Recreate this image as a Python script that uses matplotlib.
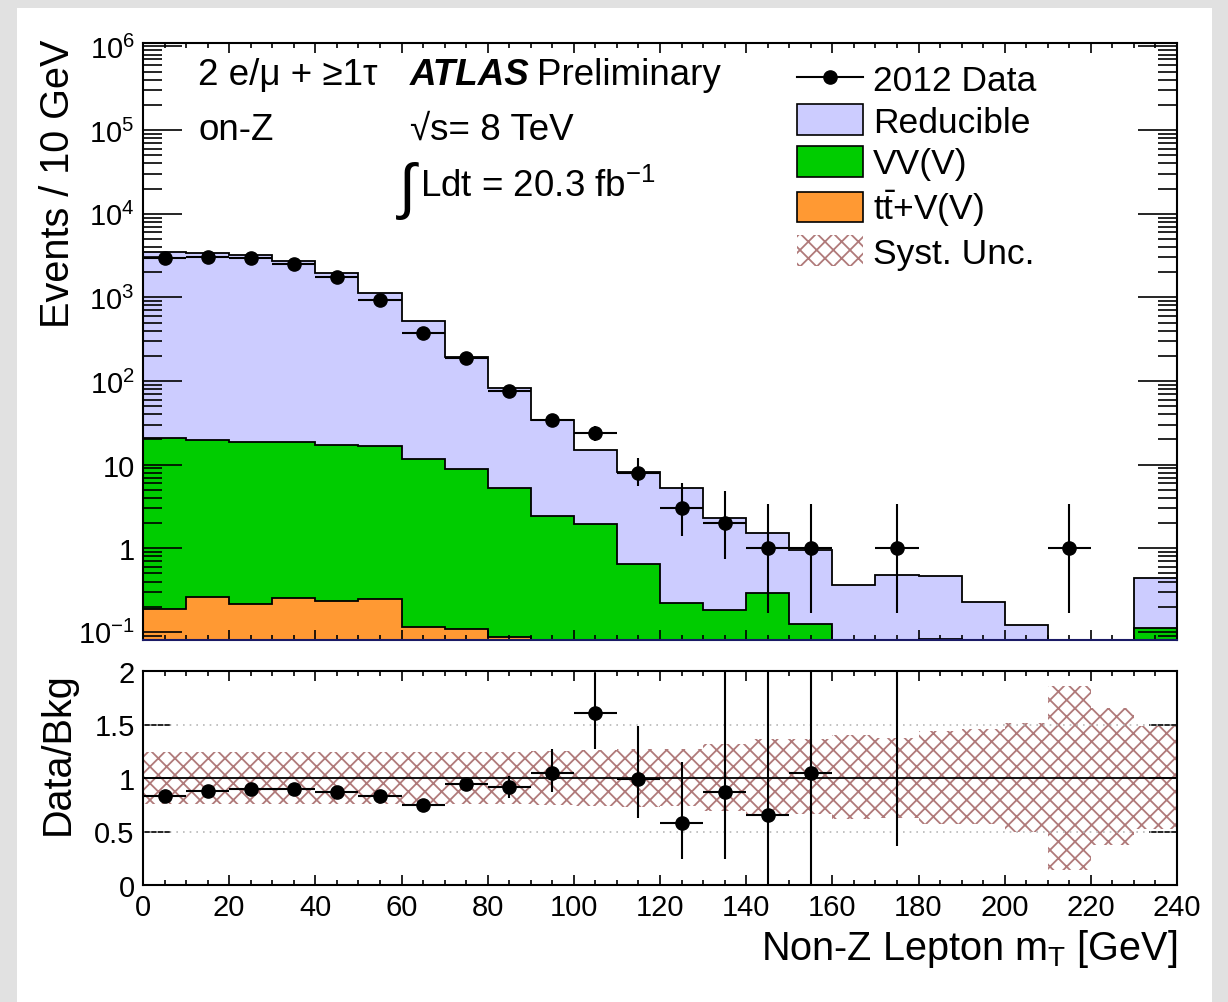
import numpy as np
import matplotlib
matplotlib.use("Agg")
import matplotlib.pyplot as plt
from matplotlib.patches import Patch, Rectangle
from matplotlib.lines import Line2D
from matplotlib.ticker import MultipleLocator, FixedLocator, LogLocator, NullFormatter

plt.rcParams['font.family'] = ['Liberation Sans', 'DejaVu Sans']
plt.rcParams['mathtext.fontset'] = 'custom'
plt.rcParams['mathtext.rm'] = 'Liberation Sans'
plt.rcParams['mathtext.it'] = 'Liberation Sans:italic'
plt.rcParams['mathtext.bf'] = 'Liberation Sans:bold'
plt.rcParams['hatch.linewidth'] = 1.3

# binning: 10 GeV bins from 0 to 240
edges = np.arange(0, 250, 10)

# stacked backgrounds (events per bin)
ttv = [0.19, 0.258, 0.213, 0.251, 0.237, 0.244, 0.116, 0.107, 0.088, 0, 0, 0,
       0, 0, 0, 0, 0, 0, 0, 0, 0, 0, 0, 0]
vv = [20.7, 19.5, 18.5, 18.4, 17.0, 16.5, 11.5, 8.7, 5.16, 2.42, 1.94, 0.64,
      0.22, 0.185, 0.288, 0.126, 0, 0, 0.082, 0, 0, 0, 0, 0.11]
reducible = [3455, 3365, 3191, 2706, 1945, 1096, 506, 186, 78, 32, 13.1, 7.6,
             5.0, 2.1, 1.22, 0.84, 0.36, 0.474, 0.38, 0.225, 0.12, 0, 0, 0.33]

# data
data_x = [5, 15, 25, 35, 45, 55, 65, 75, 85, 95, 105, 115, 125, 135, 145, 155, 175, 215]
data_y = [2945, 3020, 2945, 2495, 1745, 920, 380, 190, 76, 34.4, 24, 8, 3, 2, 1, 1, 1, 1]
data_lo = [54, 55, 54, 50, 42, 30, 19, 14, 8.7, 5.8, 4.9, 2.5, 1.6, 1.25, 0.83, 0.83, 0.83, 0.83]
data_hi = [54, 55, 54, 50, 42, 30, 19, 14, 8.7, 5.8, 4.9, 4.0, 3.1, 2.8, 2.37, 2.37, 2.37, 2.37]

# ratio panel
ratio_x = [5, 15, 25, 35, 45, 55, 65, 75, 85, 95, 105, 115, 125, 135, 145, 155, 175]
ratio_y = [0.83, 0.88, 0.90, 0.90, 0.87, 0.83, 0.75, 0.94, 0.92, 1.05, 1.61, 0.99,
           0.58, 0.87, 0.65, 1.05, 2.1]
ratio_lo = [0.02, 0.02, 0.02, 0.02, 0.02, 0.03, 0.04, 0.06, 0.11, 0.18, 0.34, 0.36,
            0.34, 0.63, 0.65, 1.05, 1.74]
ratio_hi = [0.02, 0.02, 0.02, 0.02, 0.02, 0.03, 0.04, 0.06, 0.10, 0.22, 0.37, 0.50,
            0.57, 1.3, 1.4, 1.0, 0.5]
band_up = [1.24, 1.24, 1.24, 1.24, 1.24, 1.24, 1.24, 1.24, 1.24, 1.25, 1.26, 1.27,
           1.27, 1.32, 1.36, 1.36, 1.40, 1.37, 1.44, 1.46, 1.51, 1.86, 1.65, 1.49]
band_dn = [0.76, 0.76, 0.76, 0.76, 0.76, 0.76, 0.76, 0.76, 0.76, 0.75, 0.74, 0.73,
           0.74, 0.69, 0.66, 0.66, 0.62, 0.63, 0.57, 0.57, 0.50, 0.14, 0.37, 0.52]

red_c = '#ccccff'
vv_c = '#00cc00'
ttv_c = '#ff9933'
hatch_c = '#b07a7a'

W, H = 1228, 1003
fig = plt.figure(figsize=(W / 100, H / 100), dpi=100, facecolor='#e1e1e1')
fig.patches.append(Rectangle((17 / W, 0), (1212 - 17) / W, 1 - 9 / H,
                             transform=fig.transFigure, facecolor='white',
                             edgecolor='none', zorder=-1))

left = 143 / W
width = (1177 - 143) / W
ax1 = fig.add_axes([left, 1 - 641 / H, width, (641 - 44) / H])
ax2 = fig.add_axes([left, 1 - 886 / H, width, (886 - 672) / H])

# ---- main panel
base = 1e-3
s1 = np.array(ttv)
s2 = s1 + np.array(vv)
s3 = s2 + np.array(reducible)
for vals, col in [(s3, red_c), (s2, vv_c), (s1, ttv_c)]:
    v = np.maximum(vals, base)
    ax1.stairs(v, edges, baseline=base, fill=True, color=col, lw=0)
    ax1.stairs(v, edges, baseline=None, color='k', lw=1.3)

ax1.errorbar(data_x, data_y, xerr=5, yerr=[data_lo, data_hi], fmt='o', color='k',
             ms=9.5, lw=1.5, capsize=0, zorder=5)

ax1.set_yscale('log')
ax1.set_xlim(0, 240)
ax1.set_ylim(0.08, 1.1e6)
ax1.yaxis.set_major_locator(FixedLocator([0.1, 1, 10, 1e2, 1e3, 1e4, 1e5, 1e6]))
ax1.set_yticklabels(['$10^{-1}$', '1', '10', '$10^{2}$', '$10^{3}$', '$10^{4}$',
                     '$10^{5}$', '$10^{6}$'])
ax1.yaxis.set_minor_locator(LogLocator(base=10, subs=np.arange(2, 10), numticks=20))
ax1.yaxis.set_minor_formatter(NullFormatter())

for ax in (ax1, ax2):
    ax.xaxis.set_major_locator(MultipleLocator(20))
    ax.xaxis.set_minor_locator(MultipleLocator(5))
    ax.tick_params(axis='x', which='major', direction='in', length=7.5, width=1.2,
                   top=True, bottom=True, labelsize=21, pad=6)
    ax.tick_params(axis='x', which='minor', direction='in', length=3.5, width=1.2,
                   top=True, bottom=True)
    for sp in ax.spines.values():
        sp.set_linewidth(1.5)
ax1.tick_params(axis='x', labelbottom=False)
ax1.tick_params(axis='y', which='major', direction='in', length=28, width=1.2,
                left=True, right=True, labelsize=21, pad=6)
ax1.tick_params(axis='y', which='minor', direction='in', length=14, width=1.2,
                left=True, right=True)
ax1.spines['bottom'].set_color('#1a1a66')

tr = ax1.transAxes
fs = 26.5
ax1.text(0.0532, 0.931, '2 e/\u03bc + \u22651\u03c4', transform=tr, fontsize=fs,
         va='baseline')
ax1.text(0.0532, 0.839, 'on-Z', transform=tr, fontsize=fs, va='baseline')
ax1.text(0.258, 0.931, 'ATLAS', transform=tr, fontsize=fs, va='baseline',
         fontweight='bold', style='italic')
ax1.text(0.381, 0.931, 'Preliminary', transform=tr, fontsize=fs, va='baseline')
ax1.text(0.258, 0.839, '\u221as= 8 TeV', transform=tr, fontsize=fs, va='baseline')
ax1.text(0.248, 0.727, '\u222b', transform=tr, fontsize=44, va='baseline')
ax1.text(0.268, 0.744, r'Ldt = 20.3 fb$^{-1}$', transform=tr, fontsize=fs,
         va='baseline')

handles = [Line2D([], [], color='k', marker='o', ms=9.5, lw=1.5),
           Patch(facecolor=red_c, edgecolor='k', lw=1.2),
           Patch(facecolor=vv_c, edgecolor='k', lw=1.2),
           Patch(facecolor=ttv_c, edgecolor='k', lw=1.2),
           Patch(facecolor='none', edgecolor=hatch_c, hatch='xx', lw=0)]
labels = ['2012 Data', 'Reducible', 'VV(V)', r't$\bar{\mathrm{t}}$+V(V)', 'Syst. Unc.']
ax1.legend(handles, labels, loc='upper left', bbox_to_anchor=(0.6325, 0.9666),
           frameon=False, fontsize=25.5, handlelength=1.85, handleheight=0.95,
           handletextpad=0.3, labelspacing=0.2, borderpad=0, borderaxespad=0)

# ---- ratio panel
ax2.stairs(band_up, edges, baseline=band_dn, fill=True, facecolor='none',
           edgecolor=hatch_c, hatch='xx', lw=0)
ax2.axhline(1, color='k', lw=1.3)
for g in (0.5, 1.5):
    ax2.axhline(g, color='#b8b8b8', ls=(0, (1, 3)), lw=1.2)
ax2.errorbar(ratio_x, ratio_y, xerr=5, yerr=[ratio_lo, ratio_hi], fmt='o', color='k',
             ms=9.5, lw=1.5, capsize=0, zorder=5)
ax2.set_xlim(0, 240)
ax2.set_ylim(0, 2)
ax2.set_yticks([0, 0.5, 1, 1.5, 2])
ax2.set_yticklabels(['0', '0.5', '1', '1.5', '2'])
ax2.tick_params(axis='y', which='major', direction='in', length=20, width=1.2,
                left=True, right=True, labelsize=21, pad=6)

fig.text(58 / W, 1 - 40 / H, 'Events / 10 GeV', rotation=90, ha='center', va='top',
         fontsize=28.5)
fig.text(58 / W, 1 - 672 / H, 'Data/Bkg', rotation=90, ha='center', va='top',
         fontsize=28.5)
fig.text(1177 / W, 1 - 960 / H, r'Non-Z Lepton m$_{\mathrm{T}}$ [GeV]', ha='right',
         va='baseline', fontsize=28.5)

fig.savefig('out.png', dpi=100, facecolor=fig.get_facecolor())
